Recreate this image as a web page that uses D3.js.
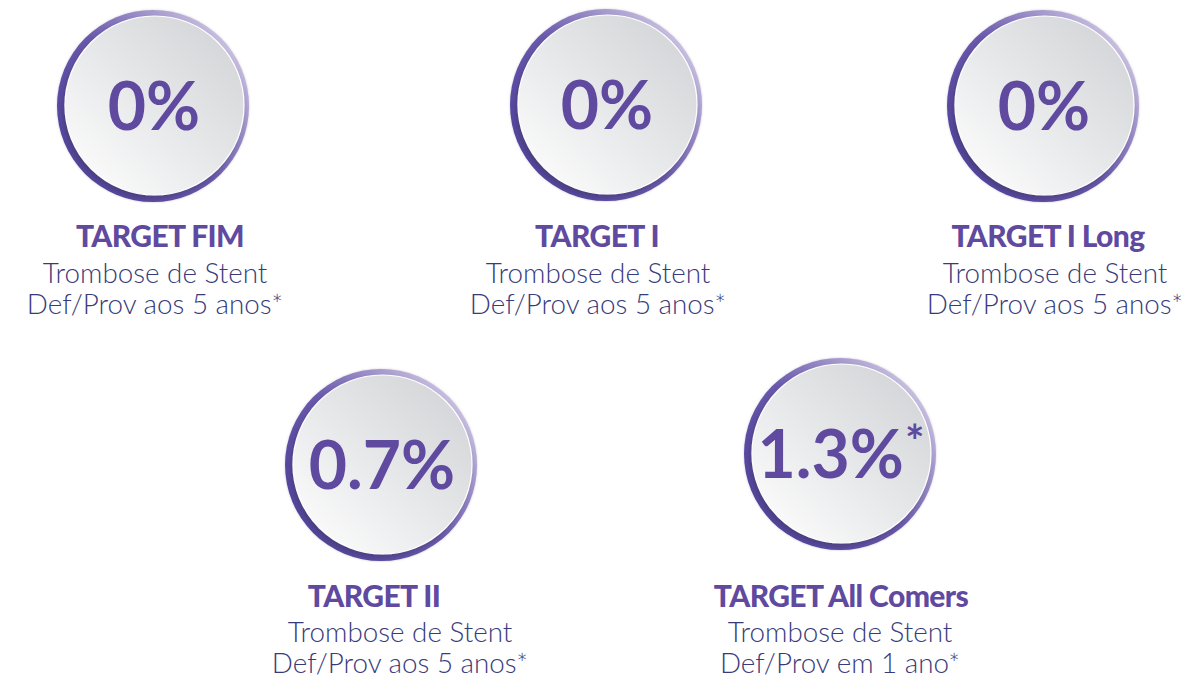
<!DOCTYPE html>
<html>
<head>
<meta charset="utf-8">
<script src="https://cdn.jsdelivr.net/npm/d3@7"></script>
<style>
  html, body { margin: 0; padding: 0; background: #fff; }
  svg { display: block; }
</style>
</head>
<body>
<div id="chart"></div>
<script>
// Stent thrombosis results per study

// Data
var studies = ["TARGET FIM", "TARGET I", "TARGET I Long", "TARGET II", "TARGET All Comers"],
  rates = [0, 0, 0, 0.7, 1.3],
  rateNotes = ["", "", "", "", "*"],
  subLine1 = ["Trombose de Stent", "Trombose de Stent", "Trombose de Stent", "Trombose de Stent", "Trombose de Stent"],
  subLine2 = ["Def/Prov aos 5 anos*", "Def/Prov aos 5 anos*", "Def/Prov aos 5 anos*", "Def/Prov aos 5 anos*", "Def/Prov em 1 ano*"];

// Placement
var width = 1203,
  height = 678,
  rowOf = [0, 0, 0, 1, 1],
  circleX = [153, 606, 1043, 381, 840],
  circleY = [106, 105, 106, 465, 454],
  titleX = [160, 597, 1048, 374, 841],
  subX = [155, 598, 1055, 400, 840],
  titleBase = [247, 607],
  subBase = [[283, 314], [642, 673]],
  ringR = 96,
  diskR = 89.5;

// Colours
var purple = "#5f4a9f",
  navy = "#383b7a";

var svg = d3.select("#chart")
  .append("svg")
  .attr("width", width)
  .attr("height", height);

var defs = svg.append("defs");

var ringGrad = defs.append("linearGradient")
  .attr("id", "ringGrad")
  .attr("x1", 0.15).attr("y1", 0.85)
  .attr("x2", 0.95).attr("y2", 0.15);
ringGrad.selectAll("stop")
  .data([[0, "#5444a0"], [0.45, "#6a59ad"], [0.8, "#ada1d1"], [1, "#d2cbe6"]])
  .enter().append("stop")
  .attr("offset", function(d) { return d[0]; })
  .attr("stop-color", function(d) { return d[1]; });

var diskGrad = defs.append("linearGradient")
  .attr("id", "diskGrad")
  .attr("x1", 0.95).attr("y1", 0.1)
  .attr("x2", 0.15).attr("y2", 0.95);
diskGrad.selectAll("stop")
  .data([[0, "#d3d4d7"], [0.5, "#e6e7e9"], [1, "#fbfbfb"]])
  .enter().append("stop")
  .attr("offset", function(d) { return d[0]; })
  .attr("stop-color", function(d) { return d[1]; });

var shadow = defs.append("filter")
  .attr("id", "diskShadow")
  .attr("x", "-20%").attr("y", "-20%")
  .attr("width", "140%").attr("height", "140%");
shadow.append("feDropShadow")
  .attr("dx", -2).attr("dy", 3)
  .attr("stdDeviation", 2)
  .attr("flood-color", "#3a3550")
  .attr("flood-opacity", 0.45);

var ringGlow = defs.append("filter")
  .attr("id", "ringGlow")
  .attr("x", "-20%").attr("y", "-20%")
  .attr("width", "140%").attr("height", "140%");
ringGlow.append("feDropShadow")
  .attr("dx", 0).attr("dy", 0)
  .attr("stdDeviation", 1.2)
  .attr("flood-color", "#9a9aa6")
  .attr("flood-opacity", 0.5);

var items = svg.selectAll("g.study")
  .data(studies)
  .enter().append("g")
  .attr("class", "study");

// outer ring
items.append("circle")
  .attr("cx", function(d, i) { return circleX[i]; })
  .attr("cy", function(d, i) { return circleY[i]; })
  .attr("r", ringR)
  .attr("fill", "url(#ringGrad)")
  .attr("filter", "url(#ringGlow)");

// inner disk
items.append("circle")
  .attr("cx", function(d, i) { return circleX[i] + 1.5; })
  .attr("cy", function(d, i) { return circleY[i] - 0.5; })
  .attr("r", diskR)
  .attr("fill", "url(#diskGrad)")
  .attr("stroke", "#ffffff")
  .attr("stroke-width", 1.2)
  .attr("filter", "url(#diskShadow)");

// rate
var rateText = items.append("text")
  .attr("x", function(d, i) { return circleX[i] + 1; })
  .attr("y", function(d, i) { return circleY[i] + 24; })
  .attr("text-anchor", "middle")
  .attr("font-family", "Lato, 'Open Sans', sans-serif")
  .attr("font-weight", 700)
  .attr("font-size", 66)
  .attr("fill", purple);
rateText.append("tspan")
  .text(function(d, i) { return rates[i] + "%"; });
rateText.append("tspan")
  .attr("dy", -20)
  .attr("dx", 1)
  .attr("font-size", 46)
  .text(function(d, i) { return rateNotes[i]; });

// study name
items.append("text")
  .attr("x", function(d, i) { return titleX[i]; })
  .attr("y", function(d, i) { return titleBase[rowOf[i]]; })
  .attr("text-anchor", "middle")
  .attr("font-family", "Lato, sans-serif")
  .attr("font-weight", 900)
  .attr("font-size", 30)
  .attr("letter-spacing", -0.6)
  .attr("fill", purple)
  .text(function(d) { return d; });

// description
items.append("text")
  .attr("x", function(d, i) { return subX[i]; })
  .attr("y", function(d, i) { return subBase[rowOf[i]][0]; })
  .attr("text-anchor", "middle")
  .attr("font-family", "Lato, sans-serif")
  .attr("font-weight", 300)
  .attr("font-size", 27.8)
  .attr("fill", navy)
  .text(function(d, i) { return subLine1[i]; });

items.append("text")
  .attr("x", function(d, i) { return subX[i]; })
  .attr("y", function(d, i) { return subBase[rowOf[i]][1]; })
  .attr("text-anchor", "middle")
  .attr("font-family", "Lato, sans-serif")
  .attr("font-weight", 300)
  .attr("font-size", 27.8)
  .attr("fill", navy)
  .text(function(d, i) { return subLine2[i]; });
</script>
</body>
</html>
